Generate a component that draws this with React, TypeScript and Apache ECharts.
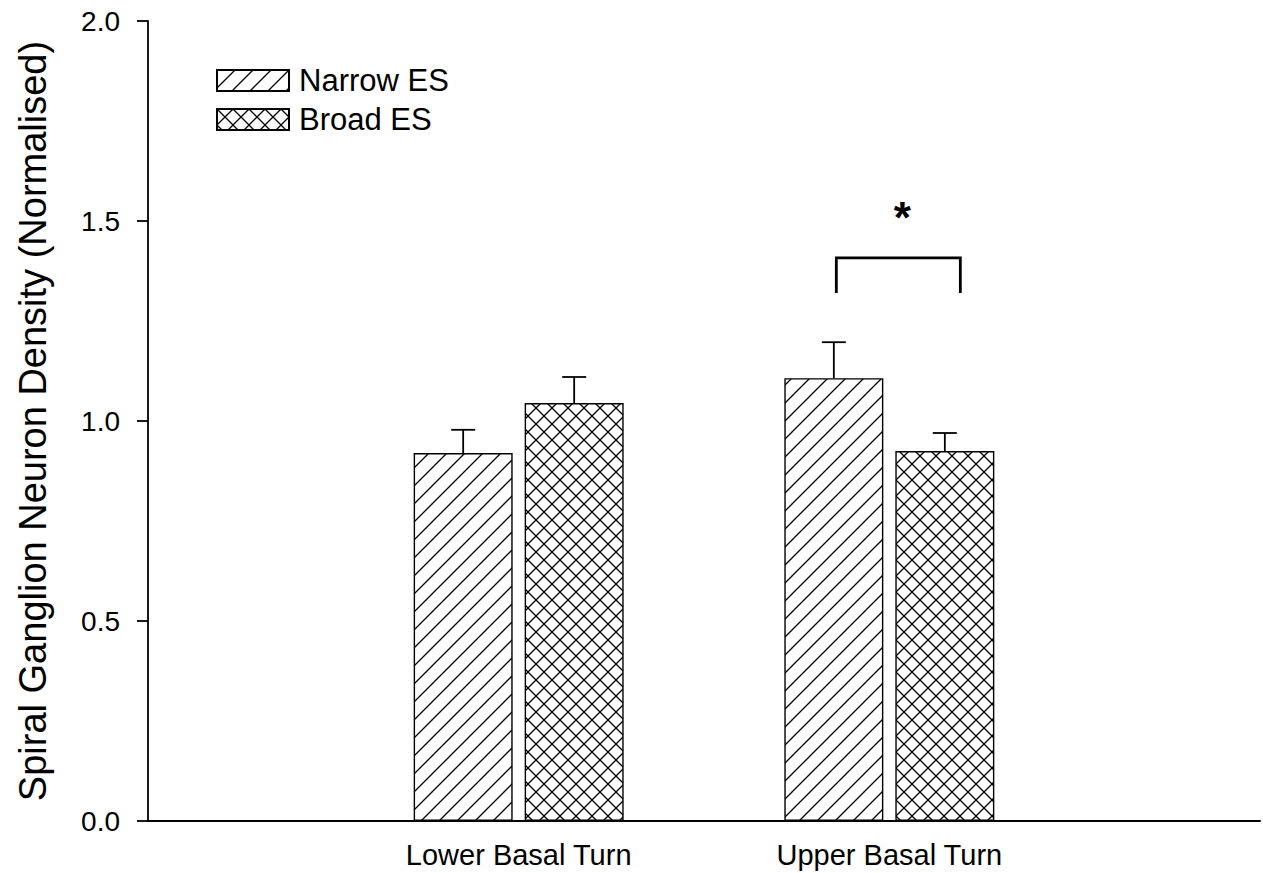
import React, { useEffect, useRef } from "react";
import * as echarts from "echarts";

const categories = ["", "Lower Basal Turn", "Upper Basal Turn", ""];
const seriesNames = ["Narrow ES", "Broad ES"];
const narrowMeans = [null, 0.92, 1.107, null];
const broadMeans = [null, 1.045, 0.925, null];
const narrowErr = [null, 0.058, 0.09, null];
const broadErr = [null, 0.065, 0.045, null];
const yTicks = [0, 0.5, 1.0, 1.5, 2.0];
const bracket = { cat: 2, top: 1.408, bottom: 1.32, label: "*" };

const FONT = "'Liberation Sans', Arial, sans-serif";

function tile(d: string, size: number) {
  const svg = `<svg xmlns='http://www.w3.org/2000/svg' width='${size}' height='${size}'><rect width='${size}' height='${size}' fill='white'/><path d='${d}' stroke='black' stroke-width='1.3' fill='none'/></svg>`;
  return "data:image/svg+xml;charset=utf-8," + encodeURIComponent(svg);
}

const D = 18;
const diagPath = `M-2,${D + 2} L${D + 2},-2 M-2,2 L2,-2 M${D - 2},${D + 2} L${D + 2},${D - 2}`;
const C = 16;
const crossPath = `M-2,${C + 2} L${C + 2},-2 M-2,2 L2,-2 M${C - 2},${C + 2} L${C + 2},${C - 2} M-2,-2 L${C + 2},${C + 2} M${C - 2},-2 L${C + 2},2 M-2,${C - 2} L2,${C + 2}`;

const BAR_W = 99;
const BAR_GAP = 12;
const OFFSET = (BAR_W + BAR_GAP) / 2;

function errorSeries(means: (number | null)[], errs: (number | null)[], offset: number) {
  const data = means
    .map((m, i) => (m == null ? null : [i, m, (m as number) + (errs[i] as number)]))
    .filter((x) => x != null);
  return {
    type: "custom",
    silent: true,
    z: 5,
    data,
    renderItem: (params: any, api: any) => {
      const base = api.coord([api.value(0), api.value(1)]);
      const top = api.coord([api.value(0), api.value(2)]);
      const x = base[0] + offset;
      const style = { stroke: "#000", lineWidth: 1.8 };
      return {
        type: "group",
        children: [
          { type: "line", shape: { x1: x, y1: base[1], x2: x, y2: top[1] }, style },
          { type: "line", shape: { x1: x - 12, y1: top[1], x2: x + 12, y2: top[1] }, style },
        ],
      };
    },
  };
}

export default function App() {
  const ref = useRef<HTMLDivElement>(null);
  useEffect(() => {
    if (!ref.current) return;
    const chart = echarts.init(ref.current, null, { renderer: "svg" });
    const diagFill = { image: tile(diagPath, D), repeat: "repeat", imageWidth: D, imageHeight: D };
    const crossFill = { image: tile(crossPath, C), repeat: "repeat", imageWidth: C, imageHeight: C };
    chart.setOption({
      animation: false,
      backgroundColor: "#fff",
      textStyle: { fontFamily: FONT, color: "#000" },
      grid: { left: 148, top: 21, right: 3, bottom: 52, containLabel: false },
      legend: {
        left: 211,
        top: 60,
        orient: "vertical",
        itemWidth: 72,
        itemHeight: 21,
        itemGap: 8,
        data: seriesNames,
        textStyle: { fontSize: 31, color: "#000", fontFamily: FONT, padding: [0, 0, 0, 5] },
        icon: "rect",
      },
      xAxis: {
        type: "category",
        data: categories,
        boundaryGap: false,
        axisLine: { lineStyle: { color: "#000", width: 2 } },
        axisTick: { show: false },
        axisLabel: { interval: 0, fontSize: 29, color: "#000", margin: 19, fontFamily: FONT },
        splitLine: { show: false },
      },
      yAxis: {
        type: "value",
        min: yTicks[0],
        max: yTicks[yTicks.length - 1],
        interval: 0.5,
        name: "Spiral Ganglion Neuron Density (Normalised)",
        nameLocation: "middle",
        nameGap: 96,
        nameTextStyle: { fontSize: 38, color: "#000", fontFamily: FONT },
        axisLine: { show: true, lineStyle: { color: "#000", width: 1.8 } },
        axisTick: { show: true, inside: false, length: 11, lineStyle: { color: "#000", width: 1.8 } },
        axisLabel: {
          fontSize: 28,
          color: "#000",
          margin: 28,
          fontFamily: FONT,
          formatter: (v: number) => v.toFixed(1),
        },
        splitLine: { show: false },
      },
      series: [
        {
          name: seriesNames[0],
          type: "bar",
          barWidth: BAR_W,
          barGap: (BAR_GAP / BAR_W) * 100 + "%",
          data: narrowMeans.map((v) => (v == null ? "-" : v)),
          itemStyle: { color: diagFill, borderColor: "#000", borderWidth: 1.4 },
        },
        {
          name: seriesNames[1],
          type: "bar",
          barWidth: BAR_W,
          data: broadMeans.map((v) => (v == null ? "-" : v)),
          itemStyle: { color: crossFill, borderColor: "#000", borderWidth: 1.4 },
        },
        errorSeries(narrowMeans, narrowErr, -OFFSET),
        errorSeries(broadMeans, broadErr, OFFSET),
        {
          type: "custom",
          silent: true,
          z: 6,
          data: [[bracket.cat, bracket.top, bracket.bottom]],
          renderItem: (params: any, api: any) => {
            const t = api.coord([api.value(0), api.value(1)]);
            const b = api.coord([api.value(0), api.value(2)]);
            const xl = t[0] - 53;
            const xr = t[0] + 71;
            const style = { stroke: "#000", lineWidth: 2.8, fill: "none" };
            return {
              type: "group",
              children: [
                { type: "polyline", shape: { points: [[xl, b[1]], [xl, t[1]], [xr, t[1]], [xr, b[1]]] }, style },
                {
                  type: "text",
                  style: {
                    text: bracket.label,
                    x: (xl + xr) / 2 + 4,
                    y: t[1] - 40,
                    align: "center",
                    verticalAlign: "middle",
                    fontSize: 44,
                    fontWeight: "bold",
                    fontFamily: FONT,
                    fill: "#000",
                  },
                },
              ],
            };
          },
        },
      ],
    });
    return () => chart.dispose();
  }, []);
  return (
    <div
      ref={ref}
      style={{ position: "fixed", left: 0, top: 0, width: 1263, height: 873, background: "#fff" }}
    />
  );
}
